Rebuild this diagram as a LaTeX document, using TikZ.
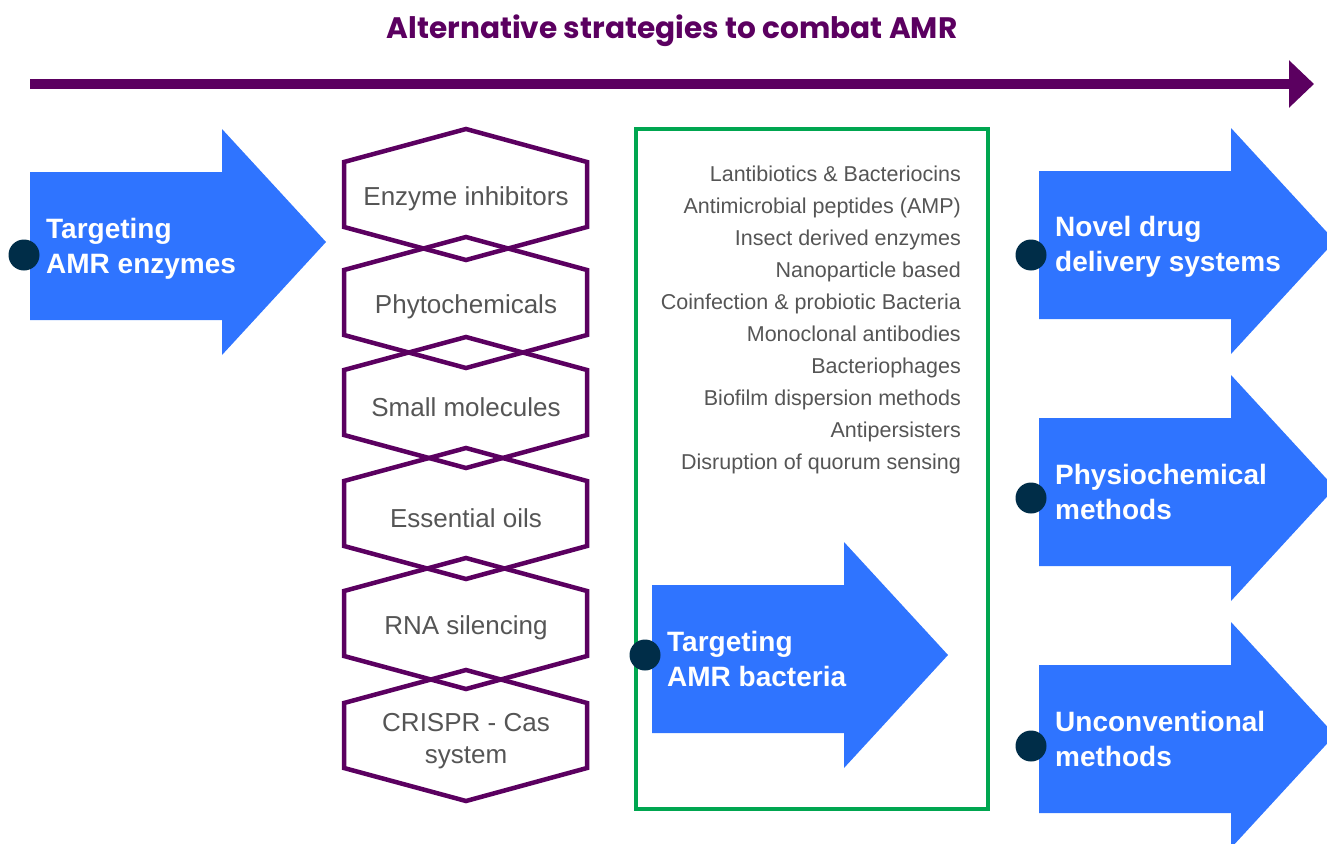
\documentclass[tikz,border=0pt]{standalone}
\usepackage{fontspec}
\setmainfont{Liberation Sans}
\newfontfamily\titlefont{Poppins}
\usetikzlibrary{arrows.meta}

\definecolor{amrpurple}{RGB}{91,0,96}
\definecolor{amrblue}{RGB}{47,116,255}
\definecolor{knobblue}{RGB}{0,45,72}
\definecolor{boxgreen}{RGB}{0,166,80}
\definecolor{labelgray}{RGB}{85,85,85}

% block arrow, #1 = left x, #2 = top y of its body
\newcommand{\blockarrow}[2]{%
  \fill[amrblue] (#1,#2) -- ++(192,0) -- ++(0,-43) -- ++(104,113)
    -- ++(-104,113) -- ++(0,-35) -- ++(-192,0) -- cycle;}
% hexagon cell, #1 = top y
\newcommand{\hexcell}[1]{%
  \draw[hexline] (466,#1) -- (587,#1+33) -- (587,#1+98) -- (466,#1+131)
    -- (344,#1+98) -- (344,#1+33) -- cycle;}

\tikzset{
  strategy/.style={text=white, font=\bfseries\fontsize{28}{35}\selectfont,
    align=left, anchor=west, inner sep=0pt},
  hexlabel/.style={text=labelgray, font=\fontsize{26}{32}\selectfont,
    align=center, inner sep=0pt},
  listitem/.style={text=labelgray, font=\fontsize{21.5}{32}\selectfont,
    anchor=base east, inner sep=0pt},
  knob/.style={circle, fill=knobblue, minimum size=31pt, inner sep=0pt},
  hexline/.style={draw=amrpurple, line width=4.5pt, line join=miter},
}

\begin{document}
\begin{tikzpicture}[x=1pt, y=-1pt]
\useasboundingbox (0,0) rectangle (1327,843);

% title and time line
\node[text=amrpurple, font=\titlefont\bfseries\fontsize{29.6}{34}\selectfont,
  anchor=base, inner sep=0pt] (title) at (672,38) {Alternative strategies to combat AMR};
\coordinate (lineL) at (30,84);
\coordinate (lineR) at (1314,84);
\draw[amrpurple, line width=10pt, -{Triangle[length=25pt, width=46pt]}] (lineL) -- (lineR);

% targeting AMR enzymes
\blockarrow{30}{172}
\node[knob] (kenz) at (24,255) {};
\node[strategy] (tgtenz) at (46,248.5) {Targeting\\AMR enzymes};

% hexagon column
\hexcell{129}
\hexcell{237}
\hexcell{337}
\hexcell{448}
\hexcell{558}
\hexcell{670}
\node[hexlabel] (hxenz) at (466,199) {Enzyme inhibitors};
\node[hexlabel] (hxphy) at (466,307) {Phytochemicals};
\node[hexlabel] (hxsml) at (466,407) {Small molecules};
\node[hexlabel] (hxoil) at (466,518) {Essential oils};
\node[hexlabel] (hxrna) at (466,628) {RNA silencing};
\node[hexlabel] (hxcas) at (466,741) {CRISPR - Cas\\system};

% targeting AMR bacteria
\draw[boxgreen, line width=4pt] (636,129) rectangle (988,809);
\foreach \item [count=\i] in {Lantibiotics \& Bacteriocins, Antimicrobial peptides (AMP),
    Insect derived enzymes, Nanoparticle based, Coinfection \& probiotic Bacteria,
    Monoclonal antibodies, Bacteriophages, Biofilm dispersion methods,
    Antipersisters, Disruption of quorum sensing}
  \node[listitem] (item\i) at (961,149+32*\i) {\item};
\blockarrow{652}{585}
\node[knob] (kbac) at (645,655) {};
\node[strategy] (tgtbac) at (667,659.3) {Targeting\\AMR bacteria};

% other strategies
\blockarrow{1039}{171}
\node[knob] (kdel) at (1031,255) {};
\node[strategy] (novel) at (1055,247) {Novel drug\\delivery systems};
\blockarrow{1039}{418}
\node[knob] (kphy) at (1031,498) {};
\node[strategy] (physio) at (1055,492.3) {Physiochemical\\methods};
\blockarrow{1039}{665}
\node[knob] (kunc) at (1031,746) {};
\node[strategy] (uncon) at (1055,739.3) {Unconventional\\methods};
\end{tikzpicture}
\end{document}
